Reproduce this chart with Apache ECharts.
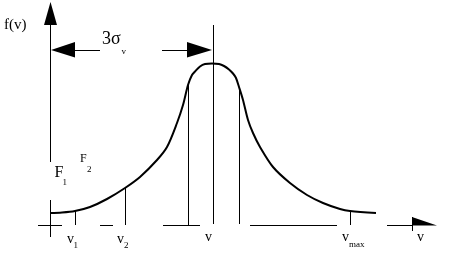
<!DOCTYPE html>
<html><head><meta charset="utf-8">
<style>html,body{margin:0;padding:0;background:#fff}#c{width:463px;height:263px}</style>
<script src="https://cdn.jsdelivr.net/npm/echarts@6/dist/echarts.min.js"></script>
</head><body><div id="c"></div>
<script>
// Curve f(v)
const curveV = [0,12,25,40,57,75,90,107,117,127,133,138,142,145,150,155,162,169,174,179,183,186,189,193,198,203,210,223,240,257,273,290,300,326];
const curveF = [12,12.5,14,18,26,37,48,65,78,102,120,140,150,153.5,158.5,161,161.5,161,159,155.5,151.5,147,138,125,105,92,78,58,42,30,22,16,14,12];

// Straight segments: [v1, f1, v2, f2]
const axisSegments = [
  [0.5,-12,0.5,25],[0.5,63,0.5,215],
  [-12,-0.5,12,-0.5],[50,-0.5,63,-0.5],[113,-0.5,150,-0.5],[200,-0.5,287,-0.5],[337,-0.5,362,-0.5],
  [362.5,8,362.5,-6]
];
const tickSegments = [
  [25.5,0,25.5,14],[75.5,0,75.5,37],[138.5,0,138.5,140],[163.5,1,163.5,200],[189.5,1,189.5,138],[300.5,0,300.5,13]
];
const sigmaSegments = [[25,174.5,50,174.5],[112,174.5,137,174.5]];

// Arrowheads: [v1,f1,v2,f2,v3,f3]
const arrowHeads = [
  [0.5,223,-6,200,7,200],
  [362,8,362,-0.5,387,-0.5],
  [1,175,25,183,25,167.5],
  [162,175,137,183,137,167.5]
];

// Text labels
const labelText = ['f(v)','3σ','v','v','1','v','2','v','v','max','v','F','1','F','2'];
const labelV    = [-46, 52, 71.5, 17, 23.5, 67, 74, 155, 292, 299, 367, 4.5, 12.5, 30, 37];
const labelF    = [199.7, 186.1, 173, -14.5, -20.7, -14.5, -20.7, -12.8, -12, -19.6, -12.8, 51.8, 42.5, 66, 55.3];
const labelRole = ['axis','sigma','sub','tick','sub','tick','sub','tick','tick','sub','tick','F','sub','F2','sub'];
const roleSize = {axis:15, sigma:18, sub:9, tick:14, F:16, F2:12};

const chart = echarts.init(document.getElementById('c'), null, {renderer:'canvas'});

function segSeries(data, width){
  return {
    type:'custom', silent:true, clip:false,
    encode:{x:[0,2], y:[1,3]},
    data: data,
    renderItem:(params, api)=>{
      const a = api.coord([api.value(0), api.value(1)]);
      const b = api.coord([api.value(2), api.value(3)]);
      return {type:'line', shape:{x1:a[0],y1:a[1],x2:b[0],y2:b[1]}, style:{stroke:'#000', lineWidth:width}};
    }
  };
}

chart.setOption({
  animation:false,
  backgroundColor:'#fff',
  grid:{left:0,right:0,top:0,bottom:0},
  xAxis:{type:'value', min:-50, max:413, show:false},
  yAxis:{type:'value', min:-38, max:225, show:false},
  series:[
    {
      type:'line', smooth:0.3, symbol:'none', silent:true,
      data: curveV.map((v,i)=>[v, curveF[i]]),
      lineStyle:{color:'#000', width:2}
    },
    segSeries(axisSegments,1),
    segSeries(tickSegments,1),
    segSeries(sigmaSegments,1),
    {
      type:'custom', silent:true, clip:false,
      encode:{x:[0,2,4], y:[1,3,5]},
      data: arrowHeads,
      renderItem:(params, api)=>{
        const pts = [];
        for (let k=0;k<3;k++) pts.push(api.coord([api.value(2*k), api.value(2*k+1)]));
        return {type:'polygon', shape:{points:pts}, style:{fill:'#000'}};
      }
    },
    {
      type:'custom', silent:true, clip:false,
      encode:{x:0, y:1},
      data: labelV.map((v,i)=>[v, labelF[i], i]),
      renderItem:(params, api)=>{
        const i = api.value(2);
        const p = api.coord([api.value(0), api.value(1)]);
        return {type:'text', x:p[0], y:p[1], style:{
          text: labelText[i], fill:'#000',
          font: roleSize[labelRole[i]] + 'px "Liberation Serif", serif',
          align:'left', verticalAlign:'middle'
        }};
      }
    }
  ]
});
</script></body></html>
